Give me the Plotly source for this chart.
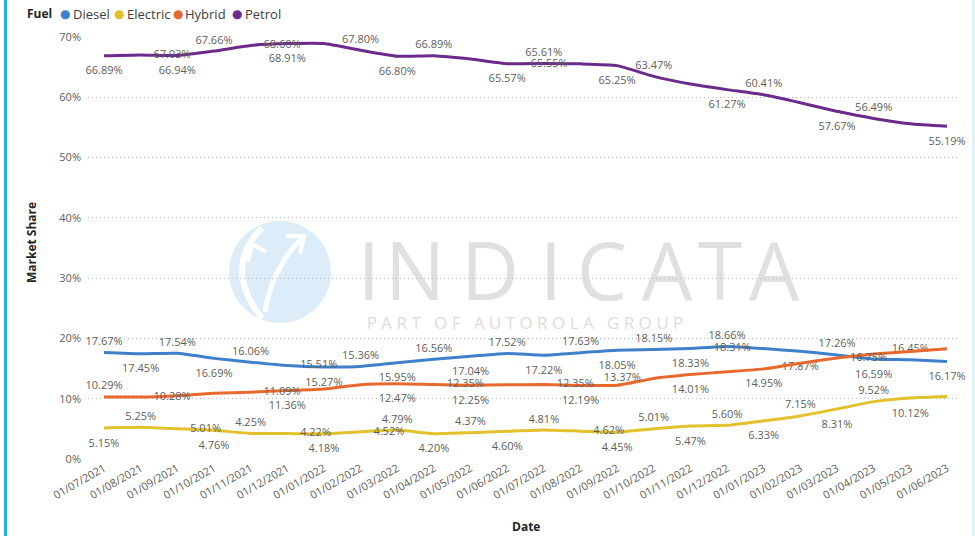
import plotly.graph_objects as go

# ---------------- data ----------------
dates = ["01/07/2021", "01/08/2021", "01/09/2021", "01/10/2021", "01/11/2021", "01/12/2021",
         "01/01/2022", "01/02/2022", "01/03/2022", "01/04/2022", "01/05/2022", "01/06/2022",
         "01/07/2022", "01/08/2022", "01/09/2022", "01/10/2022", "01/11/2022", "01/12/2022",
         "01/01/2023", "01/02/2023", "01/03/2023", "01/04/2023", "01/05/2023", "01/06/2023"]

diesel = [17.67, 17.45, 17.54, 16.69, 16.06, 15.51, 15.27, 15.36, 15.95, 16.56, 17.04, 17.52,
          17.22, 17.63, 18.05, 18.15, 18.33, 18.66, 18.31, 17.87, 17.26, 16.59, 16.45, 16.17]
electric = [5.15, 5.25, 5.01, 4.76, 4.25, 4.22, 4.18, 4.52, 4.79, 4.20, 4.37, 4.60,
            4.81, 4.62, 4.45, 5.01, 5.47, 5.60, 6.33, 7.15, 8.31, 9.52, 10.12, 10.35]
hybrid = [10.29, 10.28, 10.51, 10.89, 11.09, 11.36, 11.62, 12.32, 12.47, 12.35, 12.25, 12.31,
          12.35, 12.19, 12.25, 13.37, 14.01, 14.47, 14.95, 15.88, 16.75, 17.40, 17.83, 18.29]
petrol = [66.89, 67.03, 66.94, 67.66, 68.60, 68.91, 68.93, 67.80, 66.80, 66.89, 66.34, 65.57,
          65.61, 65.55, 65.25, 63.47, 62.19, 61.27, 60.41, 59.10, 57.67, 56.49, 55.60, 55.19]

y_ticks = [0, 10, 20, 30, 40, 50, 60, 70]
y_tick_labels = ["0%", "10%", "20%", "30%", "40%", "50%", "60%", "70%"]

# ---------------- label placement (style) ----------------
# t = above, b = below, r = right, l = left, '' = hidden
pos_diesel = ["t", "b", "t", "b", "t", "r", "b", "t", "b", "t", "b", "t",
              "b", "t", "b", "t", "b", "t", "l", "b", "t", "b", "t", "b"]
pos_electric = ["b", "t", "r", "b", "t", "r", "b", "r", "t", "b", "t", "b",
                "t", "r", "b", "t", "b", "t", "b", "t", "b", "t", "b", ""]
pos_hybrid = ["t", "r", "", "", "r", "b", "", "", "b", "r", "b", "",
              "r", "b", "", "l", "b", "", "b", "", "r", "", "", ""]
pos_petrol = ["b", "r", "b", "t", "r", "b", "", "t", "b", "t", "", "b",
              "t", "l", "b", "t", "", "b", "t", "", "b", "t", "", "b"]

series = [
    ("Diesel", diesel, "#3F80CB", pos_diesel),
    ("Electric", electric, "#E2C12C", pos_electric),
    ("Hybrid", hybrid, "#E8692E", pos_hybrid),
    ("Petrol", petrol, "#6A2B8A", pos_petrol),
]

POSMAP = {"t": "top center", "b": "bottom center", "r": "middle right", "l": "middle left", "": "top center"}
# invisible marker size controls the label offset from the line
OFFSET = {"t": 6, "b": 15, "r": 19, "l": 19, "": 6}

FONT = "Open Sans, Segoe UI, sans-serif"
W, H = 975, 536
PL, PR, PT, PB = 88, 960, 37, 459


def px(x):
    return (x - PL) / (PR - PL)


def py(y):
    return (PB - y) / (PB - PT)


fig = go.Figure()

for name, vals, color, pos in series:
    texts = [f"{v:.2f}%" if p else "" for v, p in zip(vals, pos)]
    fig.add_trace(go.Scatter(
        x=dates, y=vals, name=name, mode="lines+markers+text",
        line=dict(color=color, width=3, shape="spline", smoothing=0.5),
        marker=dict(size=[OFFSET[p] for p in pos], opacity=0, color=color),
        text=texts, textposition=[POSMAP[p] for p in pos],
        textfont=dict(family=FONT, size=11, color="#605E5C"),
        cliponaxis=False, showlegend=False,
        hovertemplate="%{x}<br>" + name + ": %{y:.2f}%<extra></extra>",
    ))

shapes = []
annotations = []

# frame borders
shapes.append(dict(type="line", xref="paper", yref="paper", x0=px(5.5), x1=px(5.5),
                   y0=py(0), y1=py(H), line=dict(color="#1FB2EC", width=3), layer="above"))
shapes.append(dict(type="line", xref="paper", yref="paper", x0=px(973.5), x1=px(973.5),
                   y0=py(0), y1=py(H), line=dict(color="#CDEEFB", width=2), layer="above"))

# watermark logo
cx, cy, r = 280, 272, 51
shapes.append(dict(type="circle", xref="paper", yref="paper", x0=px(cx - r), x1=px(cx + r),
                   y0=py(cy + r), y1=py(cy - r), fillcolor="#DCECF9", line=dict(width=0),
                   layer="below"))


def path(points_cmd):
    out = []
    for tok in points_cmd:
        if isinstance(tok, str):
            out.append(tok)
        else:
            out.append(f"{px(tok[0]):.5f},{py(tok[1]):.5f}")
    return " ".join(out)


shapes.append(dict(type="path", xref="paper", yref="paper",
                   path=path(["M", (262, 228), "Q", (222, 268), (262, 318)]),
                   line=dict(color="white", width=6), layer="below"))
shapes.append(dict(type="path", xref="paper", yref="paper",
                   path=path(["M", (265, 312), "Q", (272, 268), (302, 238)]),
                   line=dict(color="white", width=5), layer="below"))
shapes.append(dict(type="path", xref="paper", yref="paper",
                   path=path(["M", (286, 236), "L", (304, 236), "L", (300, 254)]),
                   line=dict(color="white", width=4), layer="below"))
shapes.append(dict(type="path", xref="paper", yref="paper",
                   path=path(["M", (248, 262), "L", (252, 244), "L", (266, 252)]),
                   line=dict(color="white", width=4), layer="below"))

# watermark text (letters placed individually for the wide tracking)
wm_letters = ["I", "N", "D", "I", "C", "A", "T", "A"]
wm_x = [369, 415, 490, 551, 602, 667, 720, 774]
for ch, xc in zip(wm_letters, wm_x):
    shapes.append(dict(type="rect", xref="paper", yref="paper",
                       x0=px(xc - 30), x1=px(xc + 30), y0=py(304), y1=py(244),
                       line=dict(width=0), fillcolor="rgba(0,0,0,0)", layer="below",
                       label=dict(text=ch, textposition="middle center",
                                  font=dict(family=FONT, size=80, color="#E0E0E0"))))
shapes.append(dict(type="rect", xref="paper", yref="paper",
                   x0=px(360), x1=px(690), y0=py(332), y1=py(314),
                   line=dict(width=0), fillcolor="rgba(0,0,0,0)", layer="below",
                   label=dict(text="P A R T   O F   A U T O R O L A   G R O U P",
                              textposition="middle center",
                              font=dict(family=FONT, size=17, color="#DCDCDC"))))

# legend (Power BI style)
annotations.append(dict(xref="paper", yref="paper", x=px(25), y=py(14), xanchor="left",
                        yanchor="middle", showarrow=False,
                        text="<b>Fuel</b>", font=dict(family=FONT, size=12, color="#252423")))
leg_dot_x = [65, 119, 178, 237]
leg_txt_x = [71, 125, 183, 243]
for (name, vals, color, pos), dx, tx in zip(series, leg_dot_x, leg_txt_x):
    annotations.append(dict(xref="paper", yref="paper", x=px(dx), y=py(14.5), xanchor="center",
                            yanchor="middle", showarrow=False, text="●",
                            font=dict(family="DejaVu Sans", size=12, color=color)))
    annotations.append(dict(xref="paper", yref="paper", x=px(tx), y=py(14), xanchor="left",
                            yanchor="middle", showarrow=False, text=name,
                            font=dict(family=FONT, size=13, color="#404040")))

# axis titles
annotations.append(dict(xref="paper", yref="paper", x=px(31), y=py(243), xanchor="center",
                        yanchor="middle", showarrow=False, textangle=-90,
                        text="<b>Market Share</b>", font=dict(family=FONT, size=12, color="#252423")))
annotations.append(dict(xref="paper", yref="paper", x=px(526), y=py(526), xanchor="center",
                        yanchor="middle", showarrow=False,
                        text="<b>Date</b>", font=dict(family=FONT, size=12, color="#252423")))

fig.update_layout(
    width=W, height=H,
    margin=dict(l=PL, r=W - PR, t=PT, b=H - PB, pad=0),
    paper_bgcolor="white", plot_bgcolor="white",
    font=dict(family=FONT, size=11, color="#605E5C"),
    shapes=shapes, annotations=annotations,
    showlegend=False,
    xaxis=dict(type="category", range=[-0.437, 23.355], showgrid=False, zeroline=False,
               showline=False, ticks="", tickangle=-30, dtick=1,
               tickfont=dict(family=FONT, size=11, color="#605E5C")),
    yaxis=dict(range=[0, 70], tickvals=y_ticks, ticktext=y_tick_labels, showgrid=True,
               gridcolor="#BDBDBD", griddash="1px,3px", gridwidth=1, zeroline=False,
               showline=False, ticks="", ticklabelstandoff=6,
               tickfont=dict(family=FONT, size=11, color="#605E5C")),
)

fig.write_html("out.html", config={"displayModeBar": False},
               post_script="document.body.style.margin='0';document.body.style.padding='0';")
